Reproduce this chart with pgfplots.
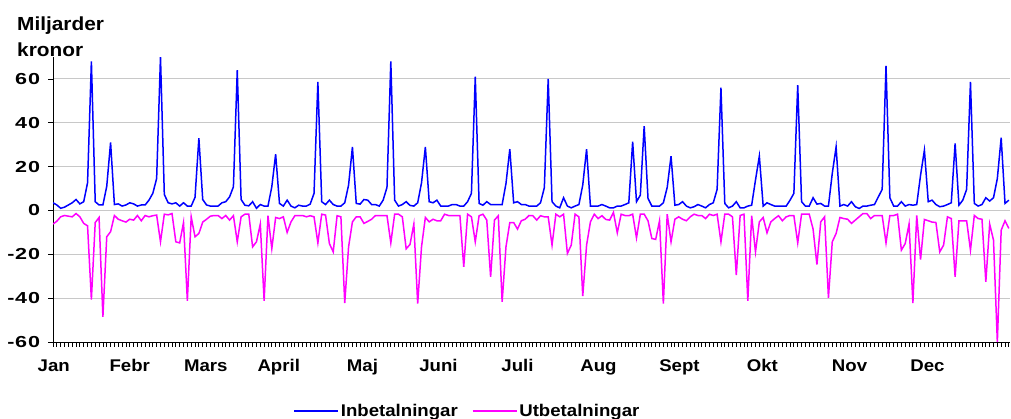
\documentclass[border=0pt]{standalone}
\usepackage{fontspec}
\setmainfont[FakeStretch=1.1]{Liberation Sans}
\newfontfamily\tickfont[FakeStretch=1.35, LetterSpace=5]{Liberation Sans}
\usepackage{pgfplots}
\pgfplotsset{compat=1.18}
\usepackage{pgfplotstable}

\definecolor{inbcol}{RGB}{0,0,255}
\definecolor{utbcol}{RGB}{255,0,255}
\definecolor{gridgray}{RGB}{200,200,200}

% daily payments, billions SEK (business days)
\pgfplotstableread{
day inb utb
0 3.5 -6.2
1 2.5 -4.9
2 1.0 -2.9
3 1.5 -2.3
4 2.5 -2.6
5 3.5 -2.9
6 5.0 -1.4
7 3.0 -2.9
8 4.0 -5.9
9 12.6 -7.0
10 68.0 -40.6
11 4.0 -5.5
12 2.5 -3.2
13 2.5 -48.5
14 11.0 -12.0
15 31.0 -9.7
16 2.7 -2.3
17 3.0 -4.0
18 2.0 -4.7
19 2.5 -5.3
20 3.5 -4.0
21 3.0 -4.4
22 2.0 -2.3
23 2.5 -4.7
24 2.5 -2.3
25 4.7 -2.9
26 7.8 -2.4
27 14.6 -2.1
28 70.0 -14.3
29 7.3 -1.7
30 3.5 -2.0
31 3.0 -1.4
32 3.5 -14.3
33 2.0 -14.8
34 3.5 -5.5
35 2.0 -41.2
36 2.0 -2.9
37 6.0 -12.0
38 33.0 -10.5
39 5.0 -5.3
40 2.5 -4.0
41 2.0 -2.6
42 2.0 -2.3
43 2.0 -2.3
44 3.5 -3.7
45 4.0 -2.3
46 6.2 -4.4
47 10.8 -2.4
48 64.0 -14.3
49 5.0 -2.9
50 2.4 -1.7
51 2.1 -1.7
52 4.0 -16.6
53 1.0 -14.3
54 2.7 -6.2
55 2.0 -41.2
56 2.0 -2.4
57 10.8 -17.4
58 25.7 -3.2
59 3.2 -3.7
60 2.0 -2.9
61 4.7 -10.0
62 2.0 -5.2
63 1.2 -2.4
64 2.4 -2.3
65 2.0 -2.3
66 2.0 -2.9
67 2.9 -2.4
68 7.8 -2.9
69 58.6 -14.8
70 4.0 -1.7
71 2.7 -2.1
72 4.7 -15.1
73 2.7 -18.9
74 2.0 -2.4
75 2.0 -2.9
76 3.5 -42.2
77 11.6 -16.6
78 29.0 -5.2
79 3.2 -2.9
80 2.9 -2.9
81 5.0 -5.9
82 4.7 -5.0
83 2.7 -4.0
84 2.7 -2.3
85 2.0 -2.3
86 4.7 -2.3
87 10.5 -2.3
88 68.0 -14.8
89 4.7 -1.7
90 2.0 -1.7
91 2.7 -2.9
92 4.0 -17.5
93 2.3 -15.5
94 2.0 -6.2
95 3.5 -42.5
96 12.6 -16.6
97 29.0 -3.2
98 4.0 -5.2
99 3.5 -4.0
100 4.7 -4.7
101 2.0 -4.7
102 2.0 -1.7
103 2.0 -2.3
104 2.7 -2.3
105 2.7 -2.3
106 2.0 -2.3
107 2.0 -25.7
108 4.0 -1.7
109 7.8 -2.9
110 61.0 -14.3
111 3.2 -2.4
112 2.4 -1.7
113 4.0 -4.4
114 2.7 -30.3
115 2.7 -4.4
116 2.7 -2.4
117 2.7 -41.7
118 12.3 -16.6
119 28.0 -5.5
120 3.5 -5.5
121 4.0 -8.5
122 2.7 -4.7
123 2.7 -4.0
124 2.0 -2.3
125 2.0 -2.4
126 2.0 -4.4
127 3.5 -2.4
128 10.5 -2.9
129 60.0 -2.9
130 4.0 -15.8
131 2.0 -1.7
132 1.2 -2.9
133 5.8 -1.7
134 2.0 -19.6
135 1.2 -15.8
136 2.0 -1.7
137 2.7 -2.9
138 11.6 -39.1
139 28.0 -15.8
140 2.0 -5.2
141 2.0 -1.7
142 2.0 -3.7
143 2.7 -2.4
144 2.0 -4.1
145 1.2 -4.4
146 1.2 -0.9
147 2.0 -10.2
148 2.0 -1.7
149 2.7 -2.3
150 3.5 -2.4
151 31.4 -1.7
152 4.0 -12.5
153 7.0 -1.7
154 38.5 -1.7
155 5.5 -4.7
156 2.0 -12.8
157 2.0 -13.2
158 2.0 -4.7
159 3.5 -42.5
160 10.5 -1.7
161 24.8 -14.3
162 2.4 -4.0
163 2.7 -2.9
164 4.0 -4.0
165 2.0 -4.7
166 1.2 -2.9
167 1.7 -1.7
168 2.7 -2.3
169 2.0 -2.3
170 1.2 -3.7
171 2.7 -1.7
172 3.5 -2.3
173 9.6 -1.7
174 56.0 -14.3
175 3.2 -1.7
176 1.2 -1.7
177 2.0 -2.9
178 4.0 -29.5
179 1.2 -2.3
180 1.2 -1.7
181 2.0 -41.2
182 2.4 -2.4
183 13.9 -18.9
184 24.8 -5.2
185 2.0 -3.2
186 3.5 -10.2
187 2.7 -5.2
188 2.0 -3.7
189 2.0 -2.4
190 2.0 -4.7
191 2.0 -2.9
192 4.7 -2.3
193 7.8 -2.4
194 57.2 -14.8
195 4.0 -1.7
196 2.0 -1.7
197 2.0 -1.7
198 5.8 -8.5
199 2.9 -24.7
200 3.2 -5.2
201 2.0 -2.9
202 2.0 -39.9
203 16.9 -14.3
204 29.0 -10.5
205 2.0 -3.2
206 2.7 -3.7
207 2.0 -4.0
208 4.0 -5.9
209 1.7 -4.4
210 0.9 -2.9
211 2.0 -1.4
212 2.0 -1.4
213 2.4 -3.7
214 2.7 -2.3
215 6.2 -2.3
216 9.6 -2.3
217 66.0 -14.8
218 5.8 -2.3
219 2.0 -2.3
220 2.0 -1.7
221 4.0 -18.1
222 2.0 -15.1
223 2.7 -6.2
224 2.4 -42.2
225 2.7 -2.3
226 16.1 -22.4
227 27.5 -4.1
228 4.0 -4.7
229 4.7 -5.3
230 2.7 -5.5
231 1.7 -18.9
232 2.0 -15.8
233 2.7 -2.9
234 3.5 -3.7
235 30.6 -30.3
236 2.4 -4.7
237 4.7 -4.7
238 9.6 -4.7
239 58.6 -18.1
240 3.2 -2.3
241 2.0 -3.7
242 2.7 -4.0
243 5.8 -32.6
244 4.3 -6.2
245 5.8 -13.5
246 14.6 -60.0
247 33.2 -9.0
248 3.2 -4.7
249 4.7 -8.2
}\paydata

\begin{document}
\begin{tikzpicture}
\path[use as bounding box] (0,0) rectangle (1011bp,419bp);

\node[anchor=base west, inner sep=0pt, font=\fontsize{19}{19}\selectfont\bfseries] at (17bp,388bp) {Miljarder};
\node[anchor=base west, inner sep=0pt, font=\fontsize{19}{19}\selectfont\bfseries] at (17bp,362bp) {kronor};

\begin{axis}[
    at={(53bp,77bp)}, anchor=south west,
    scale only axis,
    width=957bp, height=285bp,
    xmin=0, xmax=249.3,
    ymin=-60, ymax=70,
    axis x line*=bottom,
    axis y line*=left,
    axis line style={black, line width=1bp},
    ytick={-60,-40,-20,0,20,40,60},
    yticklabels={-60,-40,-20,0,20,40,60},
    xtick={0,...,249},
    xticklabels={},
    tick align=outside,
    major tick length=4.5bp,
    tick style={black, line width=0.8bp},
    ymajorgrids,
    grid style={gridgray, line width=1bp},
    yticklabel style={font=\fontsize{16}{16}\selectfont\tickfont\bfseries, xshift=-5bp},
    extra x ticks={0.2,20,39.8,58.8,80.6,100.4,121,142.1,163.2,184.8,207.5,227.8},
    extra x tick labels={Jan,Febr,Mars,April,Maj,Juni,Juli,Aug,Sept,Okt,Nov,Dec},
    extra x tick style={major tick length=0pt, grid=none,
        xticklabel style={font=\fontsize{17}{17}\selectfont\bfseries, yshift=-14bp}},
    legend columns=2,
    legend style={at={(0.433,-0.242)}, anchor=center, draw=none, fill=none,
        font=\fontsize{17}{17}\selectfont\bfseries,
        /tikz/every even column/.append style={column sep=12bp}},
    legend image code/.code={\draw[#1] (0bp,0bp) -- (44bp,0bp);},
]
\addplot[inbcol, line width=1.5bp, no markers] table[x=day, y=inb] {\paydata};
\addlegendentry{Inbetalningar}
\addplot[utbcol, line width=1.5bp, no markers] table[x=day, y=utb] {\paydata};
\addlegendentry{Utbetalningar}
\end{axis}
\end{tikzpicture}
\end{document}
